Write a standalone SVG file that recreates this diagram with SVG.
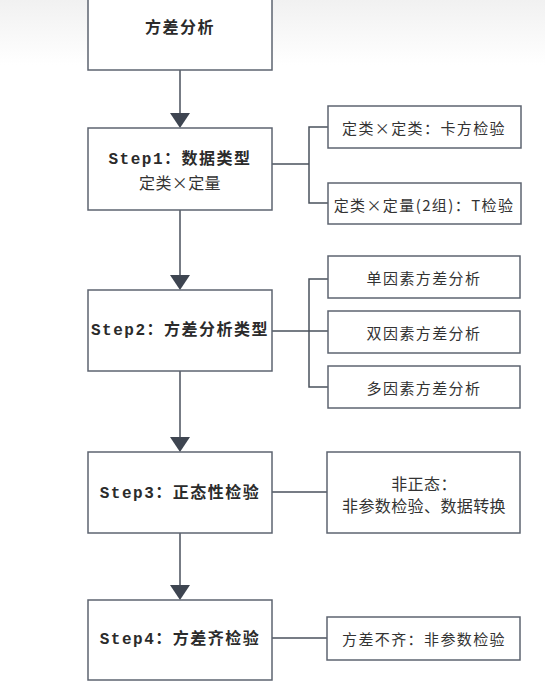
<svg xmlns="http://www.w3.org/2000/svg" width="545" height="681" viewBox="0 0 545 681">
<defs>
<linearGradient id="bg" x1="0" y1="0" x2="0" y2="1">
<stop offset="0" stop-color="#f1f1f1"/>
<stop offset="1" stop-color="#ffffff"/>
</linearGradient>
<style>
.box{fill:#ffffff;stroke:#5d6470;stroke-width:1.5}
.ln{fill:none;stroke:#4a515c;stroke-width:1.5}
.ah{fill:#3e4551}
.main{font-family:"Liberation Mono","Noto Sans CJK SC",monospace;font-weight:bold;font-size:16px;letter-spacing:1.5px;fill:#2b2b2b;text-anchor:middle;dominant-baseline:central}
.sub{font-family:"Noto Sans CJK SC","Liberation Sans",sans-serif;font-size:16px;letter-spacing:0.4px;fill:#333333;text-anchor:middle;dominant-baseline:central}
.side{font-family:"Noto Sans CJK SC","Liberation Sans",sans-serif;font-size:15px;letter-spacing:1.4px;fill:#333333;text-anchor:middle;dominant-baseline:central}
</style>
</defs>
<rect x="0" y="0" width="545" height="681" fill="#ffffff"/>
<rect x="0" y="0" width="545" height="65" fill="url(#bg)"/>

<g id="connectors">
<path class="ln" d="M180 70V114"/>
<polygon class="ah" points="170,113 190,113 180,128"/>
<path class="ln" d="M180 210V276"/>
<polygon class="ah" points="170,275 190,275 180,290"/>
<path class="ln" d="M180 371V438"/>
<polygon class="ah" points="170,437 190,437 180,452"/>
<path class="ln" d="M180 533V586"/>
<polygon class="ah" points="170,585 190,585 180,600"/>
<path class="ln" d="M272 164H309M328 127H309V203H328"/>
<path class="ln" d="M272 331H328M328 279H309V387H328"/>
<path class="ln" d="M272 492H327"/>
<path class="ln" d="M272 638H327"/>
</g>

<g id="n0">
<rect class="box" x="88" y="-12" width="184" height="82"/>
<text class="main" x="180" y="29">方差分析</text>
</g>
<g id="n1">
<rect class="box" x="88" y="128" width="184" height="82"/>
<text class="main" x="180" y="160">Step1：数据类型</text>
<text class="sub" x="180" y="182">定类×定量</text>
</g>
<g id="n1a">
<rect class="box" x="328" y="106" width="193" height="42"/>
<text class="side" x="424" y="127">定类×定类：卡方检验</text>
</g>
<g id="n1b">
<rect class="box" x="328" y="183" width="193" height="41"/>
<text class="side" x="424" y="204">定类×定量(2组)：T检验</text>
</g>
<g id="n2">
<rect class="box" x="88" y="290" width="184" height="81"/>
<text class="main" x="180" y="331">Step2：方差分析类型</text>
</g>
<g id="n2a">
<rect class="box" x="328" y="256" width="192" height="42"/>
<text class="side" x="424" y="277">单因素方差分析</text>
</g>
<g id="n2b">
<rect class="box" x="328" y="311" width="192" height="42"/>
<text class="side" x="424" y="332">双因素方差分析</text>
</g>
<g id="n2c">
<rect class="box" x="328" y="366" width="192" height="42"/>
<text class="side" x="424" y="387">多因素方差分析</text>
</g>
<g id="n3">
<rect class="box" x="88" y="452" width="184" height="81"/>
<text class="main" x="180" y="494">Step3：正态性检验</text>
</g>
<g id="n3a">
<rect class="box" x="327" y="452" width="193" height="81"/>
<text class="sub" x="424" y="483">非正态：</text>
<text class="sub" x="424" y="505">非参数检验、数据转换</text>
</g>
<g id="n4">
<rect class="box" x="88" y="600" width="184" height="80"/>
<text class="main" x="180" y="640">Step4：方差齐检验</text>
</g>
<g id="n4a">
<rect class="box" x="327" y="617" width="193" height="43"/>
<text class="side" x="424" y="638">方差不齐：非参数检验</text>
</g>
</svg>
